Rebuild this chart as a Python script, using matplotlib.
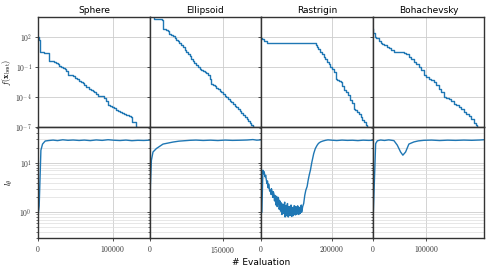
import numpy as np
import matplotlib
matplotlib.use("Agg")
import matplotlib.pyplot as plt
from matplotlib.ticker import FixedLocator, FuncFormatter, LogLocator, NullLocator

plt.rcParams['mathtext.fontset'] = 'cm'
plt.rcParams['font.family'] = 'DejaVu Sans'

# ---------------- data ---------------- #
titles = ["Sphere", "Ellipsoid", "Rastrigin", "Bohachevsky"]
x_max = [150000, 229000, 317000, 208000]
x_ticks = [[0, 100000], [0, 150000], [0, 200000], [0, 100000]]

# best f value, as log10 (step curves)
sphere_ev = [0, 1300, 2700, 8000, 14300, 19000, 21900, 24000, 26300, 28600, 31000, 33000,
             35500, 37500, 39700, 44000, 47000, 50000, 52000, 54500, 57000, 59800, 62000,
             64300, 66500, 68800, 71500, 73500, 75400, 77500, 79900, 84000, 88800, 91000,
             93300, 97000, 99500, 102200, 104500, 106700, 110000, 113400, 116000, 118750,
             121500, 124550, 126800, 129500, 131250, 133000]
sphere_logf = [2.0, 1.73, 0.5, 0.45, -0.37, -0.42, -0.5, -0.6, -0.7, -0.93, -1.0, -1.1,
               -1.2, -1.37, -1.77, -1.82, -1.9, -2.03, -2.2, -2.37, -2.45, -2.6, -2.75,
               -2.93, -3.0, -3.17, -3.3, -3.4, -3.5, -3.65, -3.83, -3.9, -4.03, -4.4,
               -4.77, -4.85, -5.0, -5.1, -5.25, -5.37, -5.45, -5.6, -5.68, -5.77, -5.85,
               -5.93, -6.43, -6.5, -7.0, -8.0]

ellipsoid_ev = [0, 9630, 24770, 26830, 30000, 33500, 37150, 40600, 44000, 47480, 51000,
                54360, 58000, 61000, 64680, 68000, 71560, 75000, 78500, 81880, 85320,
                88500, 92000, 95640, 99000, 102520, 106000, 109500, 112840, 116000,
                119720, 123170, 126600, 130000, 133500, 136930, 140500, 143800, 147000,
                150500, 154130, 157500, 161000, 164450, 168000, 171500, 174770, 178000,
                181500, 185090, 188500, 192000, 195410, 199000, 202500, 205730, 209000,
                212610, 215000]
ellipsoid_logf = [5.0, 3.8, 3.73, 2.83, 2.75, 2.68, 2.57, 2.33, 2.2, 2.07, 1.9, 1.73, 1.6,
                  1.45, 1.23, 1.0, 0.73, 0.55, 0.35, 0.07, -0.17, -0.35, -0.55, -0.77,
                  -0.95, -1.17, -1.3, -1.4, -1.5, -1.62, -1.77, -2.17, -2.7, -2.8, -2.92,
                  -3.03, -3.2, -3.37, -3.5, -3.65, -3.83, -4.0, -4.2, -4.37, -4.5, -4.65,
                  -4.83, -5.0, -5.2, -5.37, -5.55, -5.75, -5.93, -6.15, -6.4, -6.6, -6.8,
                  -7.0, -8.0]

rastrigin_ev = [0, 2000, 8000, 16300, 60000, 110000, 154300, 157000, 159100, 163000,
                168600, 173000, 178000, 182000, 187700, 192000, 197100, 201000, 206600,
                211400, 216000, 221000, 225700, 230000, 235100, 240000, 246600, 252300,
                257000, 263700, 268000, 273000, 278000, 283000, 287700, 292000, 297000,
                302000, 305000]
rastrigin_logf = [1.9, 1.77, 1.6, 1.43, 1.42, 1.40, 1.37, 1.2, 1.03, 0.8, 0.53, 0.3, 0.03,
                  -0.2, -0.47, -0.7, -0.97, -1.2, -1.47, -2.13, -2.25, -2.35, -2.47, -2.85,
                  -3.3, -3.5, -3.8, -4.3, -4.6, -5.13, -5.3, -5.45, -5.63, -6.0, -6.3,
                  -6.5, -6.75, -6.97, -8.0]

bohachevsky_ev = [0, 1300, 3700, 6500, 9900, 12500, 14900, 18000, 22000, 27300, 31000,
                  35000, 39700, 45000, 52000, 58300, 62000, 67600, 72000, 76900, 81000,
                  86200, 90000, 95600, 100000, 104900, 109000, 114200, 118000, 123500,
                  128000, 132800, 137000, 142100, 146000, 151400, 156000, 160700, 165000,
                  170000, 174500, 179300, 184000, 188600, 192000, 194900, 197000]
bohachevsky_logf = [2.77, 2.4, 2.03, 1.95, 1.87, 1.6, 1.37, 1.3, 1.2, 1.03, 0.9, 0.7, 0.53,
                    0.5, 0.47, 0.43, 0.3, 0.03, -0.2, -0.47, -0.7, -0.97, -1.3, -1.8,
                    -1.95, -2.13, -2.3, -2.47, -2.8, -3.13, -3.5, -3.97, -4.05, -4.13,
                    -4.4, -4.63, -4.8, -4.97, -5.2, -5.47, -5.7, -5.9, -6.2, -6.57, -6.8,
                    -6.97, -8.0]

# l_theta curves
sphere_l_ev = [0, 1300, 3600, 5800, 9400, 14000, 20000, 26000, 33000, 40000, 47000, 55000,
               62000, 70000, 78000, 86000, 94000, 102000, 110000, 118000, 126000, 134000,
               142000, 150000]
sphere_l = [0.9, 1.35, 18, 24, 27.7, 28.3, 28.9, 28.2, 29.3, 28.6, 29.0, 28.4, 28.9, 28.2,
            29.1, 28.5, 29.4, 28.7, 28.3, 28.9, 28.1, 28.6, 28.4, 28.8]

ellipsoid_l_ev = [0, 1500, 3500, 6800, 13800, 27400, 48100, 60000, 82500, 95000, 110000,
                  125000, 140000, 155000, 170000, 185000, 200000, 212000, 220000, 229000]
ellipsoid_l = [0.6, 3.5, 11.3, 16.6, 19.5, 24, 26.4, 27.5, 28.6, 28.9, 28.4, 28.8, 28.3,
               28.9, 28.5, 28.7, 29.0, 29.6, 28.8, 29.2]

rastrigin_l_ev = [0, 2000, 4900, 7000, 8600, 11000, 13000, 14500, 16300, 18000, 20000,
                  21000, 22000, 24000, 25700, 28000, 29000, 30000, 33000, 34500, 36000,
                  38000, 39000, 40000, 42000, 43000, 44000, 45500, 47000, 48500, 50000,
                  51000, 52000, 53000, 54300, 55000, 56000, 57000, 58000, 59000, 60000,
                  61000, 62000, 63500, 65000, 66000, 67000, 68000, 68600, 70000, 71000,
                  72000, 73000, 74000, 75000, 76000, 77000, 78500, 80000, 81500, 82900,
                  84000, 85000, 86000, 87000, 88500, 90000, 91000, 92000, 93500, 95000,
                  96000, 97000, 98500, 100000, 101000, 102000, 103500, 105000, 106000,
                  107000, 108500, 110000, 111000, 112000, 113000, 114000, 115000, 116300,
                  118000, 120900, 124000, 127000, 130600, 134000, 137000, 140000, 144000,
                  149400, 154000, 159100, 163000, 168600, 175000, 182900, 190000, 200000,
                  215000, 230000, 245000, 260000, 275000, 290000, 305000, 317000]
rastrigin_l = [0.95, 1.0, 7.1, 6.0, 6.6, 5.2, 5.6, 4.6, 3.8, 4.3, 3.1, 3.7, 3.6, 2.7, 2.8,
               2.3, 3.0, 2.9, 2.0, 2.6, 2.4, 1.7, 2.2, 1.9, 1.4, 2.0, 2.1, 1.3, 1.5, 2.0,
               1.8, 1.15, 1.2, 1.7, 1.6, 1.05, 1.1, 1.55, 1.5, 0.9, 0.95, 1.45, 1.4, 0.95,
               1.1, 1.5, 1.6, 0.8, 0.95, 1.35, 1.3, 0.85, 1.0, 1.45, 1.5, 0.95, 0.8, 1.3,
               1.3, 0.85, 0.95, 1.3, 1.4, 0.9, 0.82, 1.25, 1.2, 0.85, 0.95, 1.35, 1.35,
               0.9, 0.88, 1.3, 1.25, 0.9, 1.0, 1.35, 1.3, 0.95, 0.9, 1.25, 1.2, 0.95, 1.05,
               1.3, 1.4, 1.0, 1.1, 1.3, 1.5, 2.2, 2.8, 3.3, 4.6, 5.8, 7.1, 10.2, 15.4, 19.5,
               22.7, 24.8, 26.5, 27.6, 28.6, 29.2, 28.8, 28.3, 28.9, 28.5, 28.7, 28.2,
               28.8, 28.5, 28.6]

bohachevsky_l_ev = [0, 1300, 5600, 8800, 15000, 22000, 30000, 39700, 46000, 52100, 56400,
                    61500, 67600, 76900, 85000, 95500, 110000, 125000, 140000, 155000,
                    170000, 185000, 200000, 208000]
bohachevsky_l = [0.8, 1.0, 24.5, 28, 29.0, 28.4, 29.2, 28.2, 22.8, 16.6, 14.3, 16.6, 24,
                 26.5, 27.8, 28.6, 28.9, 28.3, 28.8, 28.5, 28.9, 28.6, 29.0, 29.4]

f_ev = [sphere_ev, ellipsoid_ev, rastrigin_ev, bohachevsky_ev]
f_logs = [sphere_logf, ellipsoid_logf, rastrigin_logf, bohachevsky_logf]
l_ev = [sphere_l_ev, ellipsoid_l_ev, rastrigin_l_ev, bohachevsky_l_ev]
l_vals = [sphere_l, ellipsoid_l, rastrigin_l, bohachevsky_l]

# ---------------- plotting ---------------- #
def pow_fmt(v, pos):
    if v <= 0:
        return ""
    return r"$10^{%d}$" % int(round(np.log10(v)))

def int_fmt(v, pos):
    return r"$%d$" % int(round(v))

fig, axes = plt.subplots(2, 4, figsize=(4.9, 2.73), dpi=100, sharex='col', sharey='row')
fig.subplots_adjust(left=0.078, right=0.988, top=0.938, bottom=0.128, wspace=0, hspace=0)

line_c = '#1f77b4'
for j in range(4):
    ax_t = axes[0, j]
    ax_b = axes[1, j]
    ax_t.plot(f_ev[j], 10.0 ** np.array(f_logs[j]), color=line_c, lw=1.0, drawstyle='steps-post')
    ax_b.plot(l_ev[j], l_vals[j], color=line_c, lw=1.0)
    ax_t.set_title(titles[j], fontsize=6.5, pad=3)
    for ax in (ax_t, ax_b):
        ax.set_yscale('log')
        ax.set_xlim(0, x_max[j])
        ax.xaxis.set_major_locator(FixedLocator(x_ticks[j]))
        ax.xaxis.set_major_formatter(FuncFormatter(int_fmt))
        for s in ax.spines.values():
            s.set_color('#333333')
            s.set_linewidth(1.0)
        ax.tick_params(labelsize=5.5, length=2.5, width=0.6, colors='#333333', pad=2)
        ax.tick_params(which='minor', length=1.5, width=0.5, colors='#333333')
    ax_t.grid(True, which='major', color='#cccccc', lw=0.6)
    ax_b.grid(True, which='major', color='#cccccc', lw=0.6)
    ax_b.grid(True, which='minor', axis='y', color='#dddddd', lw=0.5)

axes[0, 0].set_ylim(1e-7, 1e4)
axes[0, 0].yaxis.set_major_locator(FixedLocator([1e-7, 1e-4, 1e-1, 1e2]))
axes[0, 0].yaxis.set_minor_locator(NullLocator())
axes[0, 0].yaxis.set_major_formatter(FuncFormatter(pow_fmt))

axes[1, 0].set_ylim(0.3, 52)
axes[1, 0].yaxis.set_major_locator(FixedLocator([1e0, 1e1]))
axes[1, 0].yaxis.set_minor_locator(LogLocator(base=10, subs=np.arange(2, 10)))
axes[1, 0].yaxis.set_major_formatter(FuncFormatter(pow_fmt))
axes[1, 0].yaxis.set_minor_formatter(FuncFormatter(lambda v, p: ""))

axes[0, 0].set_ylabel(r"$f(\mathbf{x}_{\mathrm{best}})$", fontsize=6)
axes[1, 0].set_ylabel(r"$l_\theta$", fontsize=6)
axes[0, 0].yaxis.set_label_coords(-0.225, 0.5)
axes[1, 0].yaxis.set_label_coords(-0.21, 0.5)

fig.text(0.533, 0.04, "# Evaluation", ha='center', va='center', fontsize=6.5)

fig.savefig("out.png", dpi=100)
